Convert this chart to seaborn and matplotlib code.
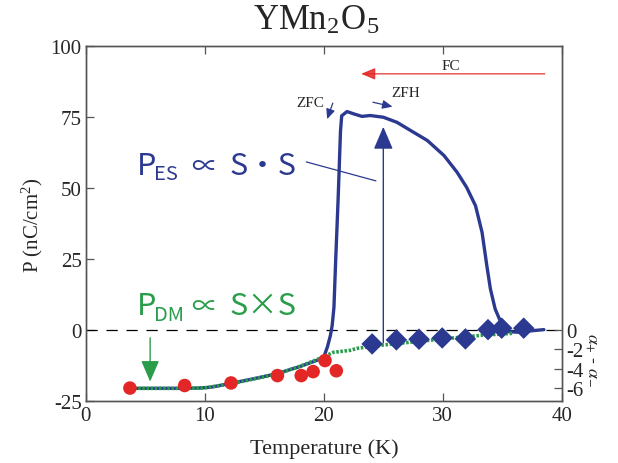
import matplotlib
matplotlib.use("Agg")
import matplotlib.pyplot as plt
import seaborn as sns
import numpy as np
import pandas as pd

# ---------------- data ----------------
# ZFC / ZFH polarization curve (left axis, nC/cm^2)
T_zfc = [4.0, 6.0, 8.0, 9.5, 10.5, 12.0, 14.0, 16.0, 18.0, 19.5, 20.0, 20.3,
         20.55, 20.7, 20.85, 21.0, 21.2, 21.4, 21.5, 21.95, 22.5, 23.2, 23.9,
         25.0, 26.15, 27.3, 28.7, 30.1, 31.2, 32.0, 32.75, 33.3, 33.7, 34.0,
         34.4, 35.0, 35.4, 36.3, 37.7, 38.5]
P_zfc = [-20.6, -20.6, -20.6, -20.5, -20.2, -19.0, -17.3, -15.5, -12.9, -10.6,
         -9.5, -6.0, -2.0, 1.5, 8.0, 25.0, 46.0, 70.0, 75.5, 77.0, 76.2, 75.3,
         75.6, 75.0, 73.2, 70.3, 66.8, 61.5, 55.6, 50.3, 43.8, 34.4, 22.7, 14.5,
         7.4, 1.5, -0.6, -0.8, -0.2, 0.1]

# DM (green dotted) curve
T_dm = [3.7, 6.0, 8.0, 9.9, 12.2, 14.1, 16.1, 18.0, 19.7, 20.8, 22.2, 22.8,
        24.8, 27.8, 30.7, 33.5, 35.9]
P_dm = [-20.6, -20.6, -20.6, -20.5, -19.0, -17.3, -15.5, -12.8, -10.0, -7.9,
        -7.2, -6.5, -5.4, -4.1, -2.9, -1.8, -1.2]

# red circles (left axis)
T_red = [3.7, 8.3, 12.2, 16.1, 18.1, 19.1, 20.1, 21.05]
P_red = [-20.5, -19.6, -18.7, -16.1, -16.1, -14.7, -10.8, -14.4]

# diamonds (right axis, alpha+ - alpha-)
T_dia = [24.06, 26.1, 28.0, 29.95, 31.9, 33.8, 34.95, 36.8]
A_dia = [-1.45, -1.03, -0.96, -0.83, -0.93, 0.03, 0.18, 0.18]

x_ticks = [0, 10, 20, 30, 40]
y_ticks = [-25, 0, 25, 50, 75, 100]
y2_ticks = [0, -2, -4, -6]

NAVY = "#2b3990"
GREEN = "#2a9d4a"
RED = "#e32726"
SERIF = "Liberation Serif"

sns.set_theme(style="white")
plt.rcParams["font.family"] = [SERIF, "DejaVu Sans"]
plt.rcParams["mathtext.fontset"] = "stix"

fig = plt.figure(figsize=(6.18, 4.64), dpi=100)
ax = fig.add_axes([0.139, 0.134, 0.770, 0.764])
ax2 = ax.twinx()

df_zfc = pd.DataFrame({"T": T_zfc, "P": P_zfc})
df_dm = pd.DataFrame({"T": T_dm, "P": P_dm})
df_red = pd.DataFrame({"T": T_red, "P": P_red})
df_dia = pd.DataFrame({"T": T_dia, "A": A_dia})

ax.axhline(0, color="black", lw=0.9, ls=(0, (9, 7)), zorder=1)

sns.lineplot(data=df_zfc, x="T", y="P", ax=ax, color=NAVY, lw=2.4,
             sort=False, estimator=None, zorder=3)
sns.lineplot(data=df_dm, x="T", y="P", ax=ax, color=GREEN, lw=2.6,
             ls=(0, (0.7, 0.45)), sort=False, estimator=None, zorder=4)
sns.scatterplot(data=df_red, x="T", y="P", ax=ax, color=RED, s=95,
                edgecolor="none", zorder=5)
sns.scatterplot(data=df_dia, x="T", y="A", ax=ax2, color=NAVY, marker="D",
                s=120, edgecolor="none", zorder=5)

ax.set_xlim(0, 40)
ax.set_ylim(-25, 100)
ratio = 3.41
ax2.set_ylim(-25 / ratio, 100 / ratio)

ax.set_xticks(x_ticks)
ax.set_yticks(y_ticks)
ax.set_xticklabels([str(v) for v in x_ticks])
ax.set_yticklabels([str(v) for v in y_ticks])
ax2.set_yticks(y2_ticks)
ax2.set_yticklabels([str(v) for v in y2_ticks])

for a in (ax, ax2):
    for s in a.spines.values():
        s.set_color("#555555")
        s.set_linewidth(1.0)
        s.set_visible(True)
ax.tick_params(axis="both", direction="in", length=6, width=0.9,
               color="#555555", labelsize=15, top=True, right=False,
               left=True, bottom=True, pad=3)
ax.tick_params(axis="x", pad=4)
ax2.tick_params(axis="y", direction="in", length=6, width=0.9,
                color="#555555", labelsize=15, right=True, pad=3)
ax.set_zorder(1)
ax2.set_zorder(2)
ax2.patch.set_visible(False)

ax.set_xlabel("Temperature (K)", fontsize=16, labelpad=9)
ax.set_ylabel(r"P (nC/cm$^{\mathregular{2}}$)", fontsize=15, labelpad=4)
ax2.set_ylabel("")
ax2.text(1.062, 0.118, r"$\alpha_{+}$ - $\alpha_{-}$", transform=ax.transAxes,
         rotation=270, fontsize=13, ha="center", va="center")

fig.text(0.512, 0.955, r"YMn$_{\mathregular{2}}$O$_{\mathregular{5}}$",
         ha="center", va="center", fontsize=25)

# ---- annotations ----
ax.annotate("", xy=(22.9, 90.3), xytext=(38.8, 90.3),
            arrowprops=dict(arrowstyle="-|>,head_length=0.6,head_width=0.25",
                            mutation_scale=14, color=RED, lw=1.0, alpha=0.85))
ax.text(30.65, 93.4, "FC", fontsize=11, ha="center", va="center")

ax.annotate("", xy=(20.2, 73.4), xytext=(20.83, 80.9),
            arrowprops=dict(arrowstyle="-|>,head_length=0.5,head_width=0.22",
                            mutation_scale=12, color=NAVY, lw=0.9))
ax.text(18.9, 80.3, "ZFC", fontsize=11, ha="center", va="center")
ax.annotate("", xy=(26.0, 78.5), xytext=(23.9, 80.5),
            arrowprops=dict(arrowstyle="-|>,head_length=0.5,head_width=0.22",
                            mutation_scale=12, color=NAVY, lw=0.9))
ax.text(26.9, 83.8, "ZFH", fontsize=11, ha="center", va="center")

# big vertical arrow
ax.annotate("", xy=(25.0, 72.6), xytext=(25.0, -5.5),
            arrowprops=dict(arrowstyle="-|>,head_length=0.7,head_width=0.3",
                            mutation_scale=20, color=NAVY, lw=1.0))
# green arrow
ax.annotate("", xy=(5.4, -19.2), xytext=(5.4, -1.8),
            arrowprops=dict(arrowstyle="-|>,head_length=0.65,head_width=0.28",
                            mutation_scale=20, color=GREEN, lw=1.0))
# pointer line from P_ES label to curve
ax.annotate("", xy=(24.6, 52.3), xytext=(18.3, 59.5),
            arrowprops=dict(arrowstyle="-", color=NAVY, lw=0.9))

SANS = ["Noto Sans CJK JP", "DejaVu Sans"]
def formula(y, color, sub, rhs, sub_drop):
    ax.text(4.3, y, "P", color=color, fontsize=22,
            ha="left", va="baseline", family=SANS)
    ax.text(5.75, y - sub_drop, sub, color=color, fontsize=14.5,
            ha="left", va="baseline", family=SANS)
    ax.text(9.95, y, "\u221d", color=color, fontsize=19, ha="center",
            va="baseline", family=SANS)
    ax.text(14.9, y, rhs, color=color, fontsize=22, ha="center",
            va="baseline", family=SANS)

formula(55.0, NAVY, "ES", "S\u30fbS", 1.8)
formula(5.64, GREEN, "DM", "S\u00d7S", 2.3)

fig.savefig("out.png", dpi=100)
